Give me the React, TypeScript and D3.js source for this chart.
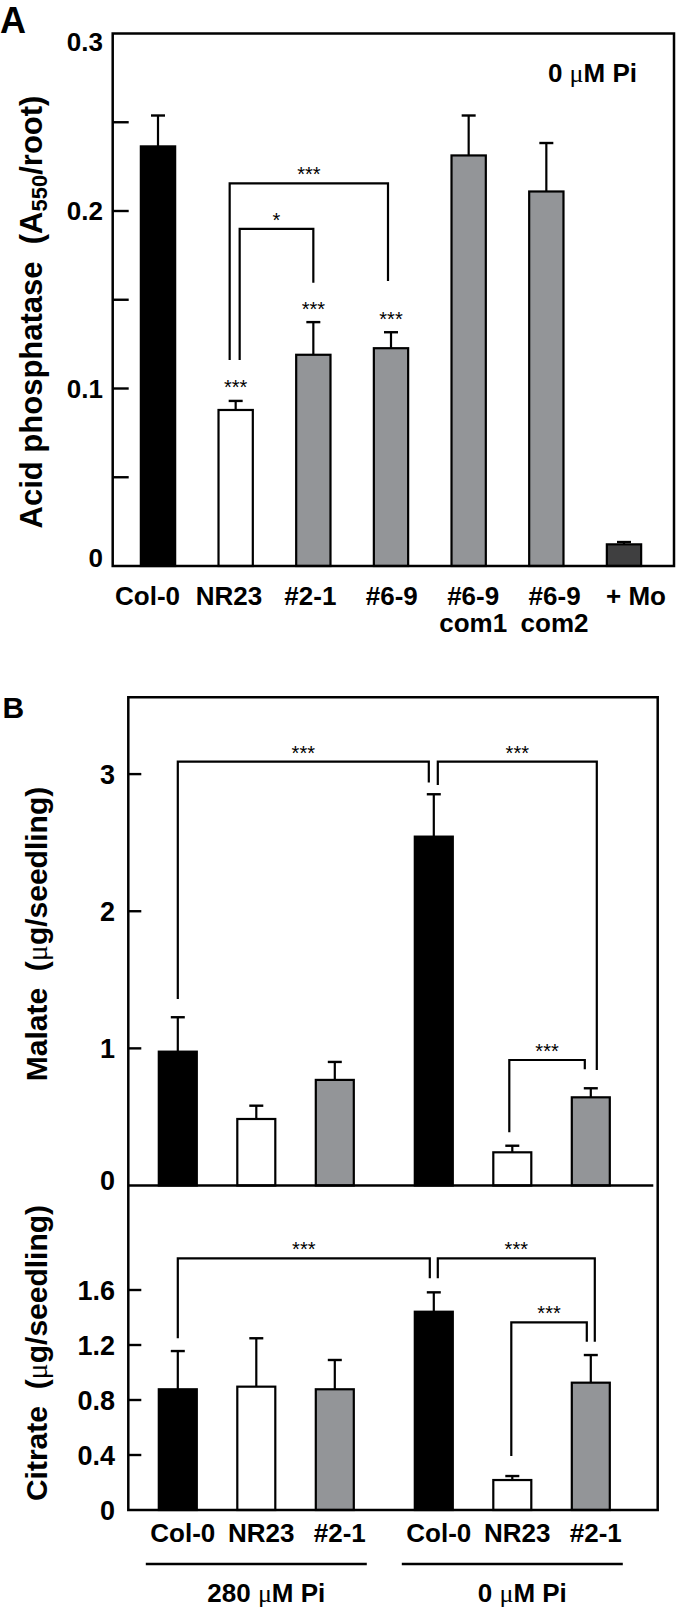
import React from "react";
import * as d3 from "d3";

// ---------- Panel A data ----------
const acpCategories = ["Col-0", "NR23", "#2-1", "#6-9", "#6-9\ncom1", "#6-9\ncom2", "+ Mo"];
const acpValues = [0.2364, 0.0879, 0.119, 0.1227, 0.2313, 0.211, 0.0122];
const acpErrors = [0.0174, 0.0051, 0.0184, 0.009, 0.0225, 0.0273, 0.0013];
const acpStars = ["", "***", "***", "***", "", "", ""];
const acpTicks = [0, 0.05, 0.1, 0.15, 0.2, 0.25, 0.3];
const acpTickLabels = ["0", "", "0.1", "", "0.2", "", "0.3"];
const acpBrackets = [
  { from: "NR23", to: "#6-9", y: 0.2156, fromEnd: 0.116, toEnd: 0.1606, label: "***" },
  { from: "NR23", to: "#2-1", y: 0.1899, fromEnd: 0.116, toEnd: 0.1596, label: "*" },
];

// ---------- Panel B data ----------
const groups = ["280 μM Pi", "0 μM Pi"];
const genotypes = ["Col-0", "NR23", "#2-1"];
const malateValues = [
  [0.976, 0.485, 0.77],
  [2.544, 0.242, 0.643],
];
const malateErrors = [
  [0.251, 0.097, 0.131],
  [0.309, 0.048, 0.066],
];
const citrateValues = [
  [0.878, 0.897, 0.878],
  [1.442, 0.218, 0.926],
];
const citrateErrors = [
  [0.278, 0.352, 0.213],
  [0.141, 0.029, 0.201],
];
const malateTicks = [1, 2, 3];
const malateTickLabels = ["0", "1", "2", "3"];
const citrateTicks = [0.4, 0.8, 1.2, 1.6];
const citrateTickLabels = ["0", "0.4", "0.8", "1.2", "1.6"];
// brackets: [groupIndex, genotype]
const malateBrackets = [
  { from: [0, "Col-0"], to: [1, "Col-0"], y: 3.091, fromEnd: 1.36, toEnd: 2.938, label: "***" },
  { from: [1, "Col-0"], to: [1, "#2-1"], y: 3.091, fromEnd: 2.921, toEnd: 0.842, label: "***" },
  { from: [1, "NR23"], to: [1, "#2-1"], y: 0.915, fromEnd: 0.388, toEnd: 0.848, label: "***" },
];
const citrateBrackets = [
  { from: [0, "Col-0"], to: [1, "Col-0"], y: 1.83, fromEnd: 1.249, toEnd: 1.685, label: "***" },
  { from: [1, "Col-0"], to: [1, "#2-1"], y: 1.83, fromEnd: 1.685, toEnd: 1.224, label: "***" },
  { from: [1, "NR23"], to: [1, "#2-1"], y: 1.365, fromEnd: 0.393, toEnd: 1.224, label: "***" },
];

// ---------- styles ----------
const FONT = "'Liberation Sans', Arial, Helvetica, sans-serif";
const SERIF = "'Liberation Serif', 'Times New Roman', serif";
const GRAY = "#939598";
const fillFor: Record<string, string> = {
  "Col-0": "#000000",
  NR23: "#ffffff",
  "#2-1": GRAY,
  "#6-9": GRAY,
  "#6-9\ncom1": GRAY,
  "#6-9\ncom2": GRAY,
  "+ Mo": "#3f3f40",
};
// leg nudges (px) for brackets sharing a bar
const acpNudges = [
  [-6, -3],
  [4, 0],
];
const malateNudges = [
  [0, -5],
  [4, 6],
  [-3, -6],
];
const citrateNudges = [
  [0, -4],
  [4, 4],
  [-1, -4],
];

function MuText({ text, ...props }: any) {
  const parts = text.split("μ");
  return (
    <text {...props}>
      {parts.map((p: string, i: number) => (
        <React.Fragment key={i}>
          {i > 0 && (
            <tspan fontFamily={SERIF} fontWeight="normal">
              μ
            </tspan>
          )}
          <tspan>{p}</tspan>
        </React.Fragment>
      ))}
    </text>
  );
}

function Bracket({ x1, x2, y, y1, y2, label, sw = 2.2 }: any) {
  return (
    <g>
      <path
        d={`M${x1},${y1}V${y}H${x2}V${y2}`}
        fill="none"
        stroke="#000"
        strokeWidth={sw}
      />
      <text
        x={(x1 + x2) / 2}
        y={y - 2}
        textAnchor="middle"
        fontFamily={FONT}
        fontSize={20}
        fill="#000"
      >
        {label}
      </text>
    </g>
  );
}

function PanelA() {
  const L = 112.7, R = 674, T = 33.5, B = 566;
  const y = d3.scaleLinear().domain([0, 0.3]).range([B, T]);
  const x = d3.scalePoint<string>().domain(acpCategories).range([158, 624]);
  const xl = d3.scalePoint<string>().domain(acpCategories).range([147.5, 636]);
  const bw = 34.3;
  return (
    <g>
      <text x={0} y={33.3} fontFamily={FONT} fontWeight="bold" fontSize={36}>
        A
      </text>
      {/* bars */}
      {acpCategories.map((c, i) => {
        const cx = x(c)!;
        const top = y(acpValues[i]);
        const et = y(acpValues[i] + acpErrors[i]);
        return (
          <g key={c}>
            <line x1={cx} x2={cx} y1={top} y2={et} stroke="#000" strokeWidth={2.2} />
            <line x1={cx - 7} x2={cx + 7} y1={et} y2={et} stroke="#000" strokeWidth={2.4} />
            <rect
              x={cx - bw / 2}
              y={top}
              width={bw}
              height={B - top}
              fill={fillFor[c]}
              stroke="#000"
              strokeWidth={2.2}
            />
            {acpStars[i] && (
              <text
                x={cx}
                y={et - 6.5}
                textAnchor="middle"
                fontFamily={FONT}
                fontSize={20}
              >
                {acpStars[i]}
              </text>
            )}
          </g>
        );
      })}
      {/* brackets */}
      {acpBrackets.map((b, i) => (
        <Bracket
          key={i}
          x1={x(b.from)! + acpNudges[i][0]}
          x2={x(b.to)! + acpNudges[i][1]}
          y={y(b.y)}
          y1={y(b.fromEnd)}
          y2={y(b.toEnd)}
          label={b.label}
        />
      ))}
      {/* ticks */}
      {acpTicks.map((t, i) => (
        <g key={t}>
          {t > 0 && t < 0.3 && (
            <line x1={L} x2={L + 16} y1={y(t)} y2={y(t)} stroke="#000" strokeWidth={2.4} />
          )}
          {acpTickLabels[i] && (
            <text
              x={103}
              y={y(t) + (i === 0 ? -8 : i === acpTicks.length - 1 ? 8 : 0)}
              dy="0.36em"
              textAnchor="end"
              fontFamily={FONT}
              fontWeight="bold"
              fontSize={26}
            >
              {acpTickLabels[i]}
            </text>
          )}
        </g>
      ))}
      {/* frame */}
      <path d={`M${L},${T}H${R}V${B}H${L}Z`} fill="none" stroke="#000" strokeWidth={2.5} />
      {/* x labels */}
      {acpCategories.map((c) =>
        c.split("\n").map((line, j) => (
          <text
            key={c + j}
            x={xl(c)}
            y={605 + j * 27}
            textAnchor="middle"
            fontFamily={FONT}
            fontWeight="bold"
            fontSize={26}
          >
            {line}
          </text>
        ))
      )}
      <MuText
        text="0 μM Pi"
        x={637}
        y={81.7}
        textAnchor="end"
        fontFamily={FONT}
        fontWeight="bold"
        fontSize={26}
      />
      {/* y title */}
      <text
        transform={`translate(42,312) rotate(-90)`}
        textAnchor="middle"
        fontFamily={FONT}
        fontWeight="bold"
        fontSize={31}
      >
        <tspan>Acid phosphatase&#160;&#160;(A</tspan>
        <tspan fontSize={22} dy={5}>
          550
        </tspan>
        <tspan dy={-5}>/root)</tspan>
      </text>
    </g>
  );
}

function PanelB() {
  const L = 128.3, R = 657.7, T = 697.3, MID = 1185.5, B = 1510;
  const yM = d3.scaleLinear().domain([0, 3.56]).range([MID, T]);
  const yC = d3.scaleLinear().domain([0, 2.36]).range([B, MID]);
  const xg = d3.scalePoint<string>().domain(groups).range([256.3, 512.3]);
  const xi = d3.scalePoint<string>().domain(genotypes).range([-78.5, 78.5]);
  const bx = (g: number, gen: string) => xg(groups[g])! + xi(gen)!;
  const bw = 38;

  const bars = (vals: number[][], errs: number[][], y: any, base: number) =>
    groups.map((g, gi) =>
      genotypes.map((gen, k) => {
        const cx = bx(gi, gen);
        const top = y(vals[gi][k]);
        const et = y(vals[gi][k] + errs[gi][k]);
        return (
          <g key={g + gen}>
            <line x1={cx} x2={cx} y1={top} y2={et} stroke="#000" strokeWidth={2.2} />
            <line x1={cx - 7} x2={cx + 7} y1={et} y2={et} stroke="#000" strokeWidth={2.4} />
            <rect
              x={cx - bw / 2}
              y={top}
              width={bw}
              height={base - top}
              fill={fillFor[gen]}
              stroke="#000"
              strokeWidth={2.2}
            />
          </g>
        );
      })
    );

  const brackets = (list: any[], nudges: number[][], y: any) =>
    list.map((b, i) => (
      <Bracket
        key={i}
        x1={bx(b.from[0], b.from[1]) + nudges[i][0]}
        x2={bx(b.to[0], b.to[1]) + nudges[i][1]}
        y={y(b.y)}
        y1={y(b.fromEnd)}
        y2={y(b.toEnd)}
        label={b.label}
      />
    ));

  return (
    <g>
      <text x={2.5} y={718.3} fontFamily={FONT} fontWeight="bold" fontSize={30}>
        B
      </text>
      {bars(malateValues, malateErrors, yM, MID)}
      {bars(citrateValues, citrateErrors, yC, B)}
      {brackets(malateBrackets, malateNudges, yM)}
      {brackets(citrateBrackets, citrateNudges, yC)}
      {/* ticks malate */}
      {malateTicks.map((t) => (
        <line key={"mt" + t} x1={L} x2={L + 13} y1={yM(t)} y2={yM(t)} stroke="#000" strokeWidth={2.4} />
      ))}
      {malateTickLabels.map((lab, i) => (
        <text
          key={"ml" + lab}
          x={115}
          y={yM(i) + (i === 0 ? -5 : 0)}
          dy="0.36em"
          textAnchor="end"
          fontFamily={FONT}
          fontWeight="bold"
          fontSize={27}
        >
          {lab}
        </text>
      ))}
      {citrateTicks.map((t) => (
        <line key={"ct" + t} x1={L} x2={L + 13} y1={yC(t)} y2={yC(t)} stroke="#000" strokeWidth={2.4} />
      ))}
      {citrateTickLabels.map((lab, i) => (
        <text
          key={"cl" + lab}
          x={115}
          y={yC(i === 0 ? 0 : citrateTicks[i - 1])}
          dy="0.36em"
          textAnchor="end"
          fontFamily={FONT}
          fontWeight="bold"
          fontSize={27}
        >
          {lab}
        </text>
      ))}
      {/* frame */}
      <path d={`M${L},${T}H${R}V${B}H${L}Z`} fill="none" stroke="#000" strokeWidth={2.5} />
      <line x1={L} x2={653.3} y1={MID} y2={MID} stroke="#000" strokeWidth={2.5} />
      {/* x labels */}
      {groups.map((g, gi) => (
        <g key={g}>
          {genotypes.map((gen) => (
            <text
              key={gen}
              x={bx(gi, gen) + 5}
              y={1542}
              textAnchor="middle"
              fontFamily={FONT}
              fontWeight="bold"
              fontSize={26}
            >
              {gen}
            </text>
          ))}
          <line
            x1={xg(g)! - 110.5}
            x2={xg(g)! + 110.5}
            y1={1564}
            y2={1564}
            stroke="#000"
            strokeWidth={2.6}
          />
          <MuText
            text={g}
            x={xg(g)! + 10}
            y={1601.5}
            textAnchor="middle"
            fontFamily={FONT}
            fontWeight="bold"
            fontSize={26}
          />
        </g>
      ))}
      {/* y titles */}
      <MuText
        text="Malate  (μg/seedling)"
        transform="translate(47,934) rotate(-90)"
        textAnchor="middle"
        fontFamily={FONT}
        fontWeight="bold"
        fontSize={30}
        style={{ whiteSpace: "pre" }}
      />
      <MuText
        text="Citrate  (μg/seedling)"
        transform="translate(47,1353) rotate(-90)"
        textAnchor="middle"
        fontFamily={FONT}
        fontWeight="bold"
        fontSize={30}
        style={{ whiteSpace: "pre" }}
      />
    </g>
  );
}

export default function App() {
  return (
    <svg
      width={676}
      height={1610}
      viewBox="0 0 676 1610"
      style={{ position: "absolute", left: 0, top: 0, display: "block", background: "#fff" }}
    >
      <rect x={0} y={0} width={676} height={1610} fill="#fff" />
      <PanelA />
      <PanelB />
    </svg>
  );
}
